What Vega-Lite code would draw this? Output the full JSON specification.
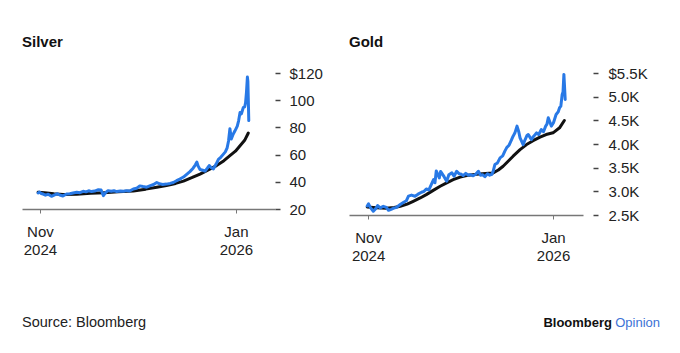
{
  "$schema": "https://vega.github.io/schema/vega-lite/v6.json",
  "background": "white",
  "padding": {"left": 22, "top": 35, "right": 20, "bottom": 0},
  "config": {
    "view": {"stroke": null},
    "font": "Liberation Sans",
    "axis": {"grid": false, "title": null, "labelFont": "Liberation Sans", "labelColor": "#222222", "labelFontSize": 15}
  },
  "datasets": {
    "silver": [
      {"date": "2024-10-28", "series": "avg", "value": 32.3},
      {"date": "2024-11-11", "series": "avg", "value": 32.0},
      {"date": "2024-12-01", "series": "avg", "value": 31.2},
      {"date": "2024-12-21", "series": "avg", "value": 30.6},
      {"date": "2025-01-20", "series": "avg", "value": 30.9},
      {"date": "2025-02-19", "series": "avg", "value": 31.5},
      {"date": "2025-03-21", "series": "avg", "value": 32.0},
      {"date": "2025-04-20", "series": "avg", "value": 32.6},
      {"date": "2025-05-23", "series": "avg", "value": 33.3},
      {"date": "2025-06-19", "series": "avg", "value": 34.6},
      {"date": "2025-07-13", "series": "avg", "value": 36.0},
      {"date": "2025-08-03", "series": "avg", "value": 37.3},
      {"date": "2025-08-23", "series": "avg", "value": 38.8},
      {"date": "2025-09-09", "series": "avg", "value": 40.5},
      {"date": "2025-09-27", "series": "avg", "value": 43.0},
      {"date": "2025-10-15", "series": "avg", "value": 45.7},
      {"date": "2025-11-02", "series": "avg", "value": 48.8},
      {"date": "2025-11-20", "series": "avg", "value": 51.9},
      {"date": "2025-12-06", "series": "avg", "value": 55.5},
      {"date": "2025-12-19", "series": "avg", "value": 59.2},
      {"date": "2025-12-31", "series": "avg", "value": 62.5},
      {"date": "2026-01-10", "series": "avg", "value": 66.5},
      {"date": "2026-01-20", "series": "avg", "value": 70.5},
      {"date": "2026-01-28", "series": "avg", "value": 75.9},
      {"date": "2024-10-28", "series": "price", "value": 31.8},
      {"date": "2024-10-31", "series": "price", "value": 32.4},
      {"date": "2024-11-04", "series": "price", "value": 31.4},
      {"date": "2024-11-08", "series": "price", "value": 31.0},
      {"date": "2024-11-13", "series": "price", "value": 30.2},
      {"date": "2024-11-19", "series": "price", "value": 30.8},
      {"date": "2024-11-26", "series": "price", "value": 29.3},
      {"date": "2024-12-03", "series": "price", "value": 30.4},
      {"date": "2024-12-09", "series": "price", "value": 31.2},
      {"date": "2024-12-14", "series": "price", "value": 30.3},
      {"date": "2024-12-21", "series": "price", "value": 29.6},
      {"date": "2024-12-29", "series": "price", "value": 31.0},
      {"date": "2025-01-05", "series": "price", "value": 31.2},
      {"date": "2025-01-12", "series": "price", "value": 31.8},
      {"date": "2025-01-20", "series": "price", "value": 32.3},
      {"date": "2025-01-27", "series": "price", "value": 32.0},
      {"date": "2025-02-03", "series": "price", "value": 33.0},
      {"date": "2025-02-09", "series": "price", "value": 32.6},
      {"date": "2025-02-15", "series": "price", "value": 33.4},
      {"date": "2025-02-21", "series": "price", "value": 32.8},
      {"date": "2025-02-28", "series": "price", "value": 33.2},
      {"date": "2025-03-08", "series": "price", "value": 34.2},
      {"date": "2025-03-14", "series": "price", "value": 34.0},
      {"date": "2025-03-19", "series": "price", "value": 29.8},
      {"date": "2025-03-23", "series": "price", "value": 31.8},
      {"date": "2025-03-29", "series": "price", "value": 33.5},
      {"date": "2025-04-05", "series": "price", "value": 33.0},
      {"date": "2025-04-11", "series": "price", "value": 33.4},
      {"date": "2025-04-17", "series": "price", "value": 32.8},
      {"date": "2025-04-25", "series": "price", "value": 33.2},
      {"date": "2025-05-02", "series": "price", "value": 33.0},
      {"date": "2025-05-08", "series": "price", "value": 33.5},
      {"date": "2025-05-15", "series": "price", "value": 33.2},
      {"date": "2025-05-23", "series": "price", "value": 34.7},
      {"date": "2025-05-30", "series": "price", "value": 35.2},
      {"date": "2025-06-06", "series": "price", "value": 37.0},
      {"date": "2025-06-13", "series": "price", "value": 36.5},
      {"date": "2025-06-21", "series": "price", "value": 36.0},
      {"date": "2025-06-29", "series": "price", "value": 37.2},
      {"date": "2025-07-06", "series": "price", "value": 38.0},
      {"date": "2025-07-13", "series": "price", "value": 39.5},
      {"date": "2025-07-19", "series": "price", "value": 38.5},
      {"date": "2025-07-26", "series": "price", "value": 38.0},
      {"date": "2025-08-03", "series": "price", "value": 38.3},
      {"date": "2025-08-11", "series": "price", "value": 38.8},
      {"date": "2025-08-18", "series": "price", "value": 39.5},
      {"date": "2025-08-25", "series": "price", "value": 40.8},
      {"date": "2025-09-01", "series": "price", "value": 42.0},
      {"date": "2025-09-09", "series": "price", "value": 43.5},
      {"date": "2025-09-16", "series": "price", "value": 45.5},
      {"date": "2025-09-23", "series": "price", "value": 47.5},
      {"date": "2025-09-30", "series": "price", "value": 50.0},
      {"date": "2025-10-05", "series": "price", "value": 52.5},
      {"date": "2025-10-08", "series": "price", "value": 54.5},
      {"date": "2025-10-11", "series": "price", "value": 51.5},
      {"date": "2025-10-15", "series": "price", "value": 49.0},
      {"date": "2025-10-21", "series": "price", "value": 48.5},
      {"date": "2025-10-26", "series": "price", "value": 47.8},
      {"date": "2025-10-31", "series": "price", "value": 50.0},
      {"date": "2025-11-04", "series": "price", "value": 52.0},
      {"date": "2025-11-08", "series": "price", "value": 50.5},
      {"date": "2025-11-13", "series": "price", "value": 49.5},
      {"date": "2025-11-19", "series": "price", "value": 53.0},
      {"date": "2025-11-24", "series": "price", "value": 56.5},
      {"date": "2025-11-29", "series": "price", "value": 58.0},
      {"date": "2025-12-04", "series": "price", "value": 60.0},
      {"date": "2025-12-09", "series": "price", "value": 62.0},
      {"date": "2025-12-13", "series": "price", "value": 65.0},
      {"date": "2025-12-16", "series": "price", "value": 70.0},
      {"date": "2025-12-19", "series": "price", "value": 79.0},
      {"date": "2025-12-22", "series": "price", "value": 71.5},
      {"date": "2025-12-26", "series": "price", "value": 75.0},
      {"date": "2025-12-30", "series": "price", "value": 77.5},
      {"date": "2026-01-04", "series": "price", "value": 81.0},
      {"date": "2026-01-07", "series": "price", "value": 85.0},
      {"date": "2026-01-10", "series": "price", "value": 91.0},
      {"date": "2026-01-13", "series": "price", "value": 90.0},
      {"date": "2026-01-17", "series": "price", "value": 94.5},
      {"date": "2026-01-20", "series": "price", "value": 95.0},
      {"date": "2026-01-22", "series": "price", "value": 98.0},
      {"date": "2026-01-24", "series": "price", "value": 106.0},
      {"date": "2026-01-26", "series": "price", "value": 117.0},
      {"date": "2026-01-27", "series": "price", "value": 114.0},
      {"date": "2026-01-28", "series": "price", "value": 100.0},
      {"date": "2026-01-29", "series": "price", "value": 85.0}
    ],
    "gold": [
      {"date": "2024-10-30", "series": "avg", "value": 2670},
      {"date": "2024-11-21", "series": "avg", "value": 2655},
      {"date": "2024-12-12", "series": "avg", "value": 2645},
      {"date": "2024-12-31", "series": "avg", "value": 2660},
      {"date": "2025-01-14", "series": "avg", "value": 2684},
      {"date": "2025-01-30", "series": "avg", "value": 2730},
      {"date": "2025-02-13", "series": "avg", "value": 2790},
      {"date": "2025-03-01", "series": "avg", "value": 2860},
      {"date": "2025-03-15", "series": "avg", "value": 2930},
      {"date": "2025-03-31", "series": "avg", "value": 3020},
      {"date": "2025-04-16", "series": "avg", "value": 3107},
      {"date": "2025-05-01", "series": "avg", "value": 3180},
      {"date": "2025-05-16", "series": "avg", "value": 3248},
      {"date": "2025-06-01", "series": "avg", "value": 3300},
      {"date": "2025-06-16", "series": "avg", "value": 3335},
      {"date": "2025-07-09", "series": "avg", "value": 3360},
      {"date": "2025-07-29", "series": "avg", "value": 3375},
      {"date": "2025-08-16", "series": "avg", "value": 3389},
      {"date": "2025-08-28", "series": "avg", "value": 3450},
      {"date": "2025-09-08", "series": "avg", "value": 3530},
      {"date": "2025-09-19", "series": "avg", "value": 3630},
      {"date": "2025-10-01", "series": "avg", "value": 3742},
      {"date": "2025-10-17", "series": "avg", "value": 3880},
      {"date": "2025-11-01", "series": "avg", "value": 3988},
      {"date": "2025-11-16", "series": "avg", "value": 4070},
      {"date": "2025-12-02", "series": "avg", "value": 4144},
      {"date": "2025-12-16", "series": "avg", "value": 4200},
      {"date": "2026-01-01", "series": "avg", "value": 4236},
      {"date": "2026-01-16", "series": "avg", "value": 4342},
      {"date": "2026-01-27", "series": "avg", "value": 4497},
      {"date": "2024-10-30", "series": "price", "value": 2690},
      {"date": "2024-11-02", "series": "price", "value": 2735},
      {"date": "2024-11-06", "series": "price", "value": 2660},
      {"date": "2024-11-13", "series": "price", "value": 2580},
      {"date": "2024-11-19", "series": "price", "value": 2640},
      {"date": "2024-11-23", "series": "price", "value": 2700},
      {"date": "2024-11-29", "series": "price", "value": 2650},
      {"date": "2024-12-06", "series": "price", "value": 2684},
      {"date": "2024-12-13", "series": "price", "value": 2660},
      {"date": "2024-12-18", "series": "price", "value": 2600},
      {"date": "2024-12-24", "series": "price", "value": 2620},
      {"date": "2024-12-29", "series": "price", "value": 2640},
      {"date": "2025-01-05", "series": "price", "value": 2660},
      {"date": "2025-01-14", "series": "price", "value": 2720},
      {"date": "2025-01-22", "series": "price", "value": 2770},
      {"date": "2025-01-28", "series": "price", "value": 2800},
      {"date": "2025-02-02", "series": "price", "value": 2900},
      {"date": "2025-02-09", "series": "price", "value": 2920},
      {"date": "2025-02-17", "series": "price", "value": 2896},
      {"date": "2025-02-24", "series": "price", "value": 2940},
      {"date": "2025-03-04", "series": "price", "value": 2980},
      {"date": "2025-03-10", "series": "price", "value": 3000},
      {"date": "2025-03-15", "series": "price", "value": 3050},
      {"date": "2025-03-21", "series": "price", "value": 3030},
      {"date": "2025-03-27", "series": "price", "value": 3150},
      {"date": "2025-04-01", "series": "price", "value": 3250},
      {"date": "2025-04-04", "series": "price", "value": 3180},
      {"date": "2025-04-07", "series": "price", "value": 3430},
      {"date": "2025-04-11", "series": "price", "value": 3350},
      {"date": "2025-04-14", "series": "price", "value": 3283},
      {"date": "2025-04-17", "series": "price", "value": 3420},
      {"date": "2025-04-20", "series": "price", "value": 3380},
      {"date": "2025-04-25", "series": "price", "value": 3310},
      {"date": "2025-05-01", "series": "price", "value": 3213},
      {"date": "2025-05-06", "series": "price", "value": 3350},
      {"date": "2025-05-13", "series": "price", "value": 3390},
      {"date": "2025-05-18", "series": "price", "value": 3320},
      {"date": "2025-05-24", "series": "price", "value": 3425},
      {"date": "2025-05-30", "series": "price", "value": 3370},
      {"date": "2025-06-04", "series": "price", "value": 3360},
      {"date": "2025-06-08", "series": "price", "value": 3330},
      {"date": "2025-06-14", "series": "price", "value": 3380},
      {"date": "2025-06-20", "series": "price", "value": 3340},
      {"date": "2025-06-24", "series": "price", "value": 3353},
      {"date": "2025-07-01", "series": "price", "value": 3330},
      {"date": "2025-07-07", "series": "price", "value": 3360},
      {"date": "2025-07-13", "series": "price", "value": 3425},
      {"date": "2025-07-18", "series": "price", "value": 3340},
      {"date": "2025-07-23", "series": "price", "value": 3350},
      {"date": "2025-07-28", "series": "price", "value": 3310},
      {"date": "2025-08-03", "series": "price", "value": 3370},
      {"date": "2025-08-08", "series": "price", "value": 3340},
      {"date": "2025-08-13", "series": "price", "value": 3360},
      {"date": "2025-08-16", "series": "price", "value": 3420},
      {"date": "2025-08-20", "series": "price", "value": 3565},
      {"date": "2025-08-26", "series": "price", "value": 3600},
      {"date": "2025-09-01", "series": "price", "value": 3707},
      {"date": "2025-09-07", "series": "price", "value": 3750},
      {"date": "2025-09-12", "series": "price", "value": 3850},
      {"date": "2025-09-16", "series": "price", "value": 3919},
      {"date": "2025-09-22", "series": "price", "value": 3980},
      {"date": "2025-09-27", "series": "price", "value": 4080},
      {"date": "2025-10-01", "series": "price", "value": 4166},
      {"date": "2025-10-05", "series": "price", "value": 4230},
      {"date": "2025-10-10", "series": "price", "value": 4378},
      {"date": "2025-10-14", "series": "price", "value": 4260},
      {"date": "2025-10-17", "series": "price", "value": 4130},
      {"date": "2025-10-21", "series": "price", "value": 4050},
      {"date": "2025-10-24", "series": "price", "value": 3988},
      {"date": "2025-10-29", "series": "price", "value": 4100},
      {"date": "2025-11-02", "series": "price", "value": 4180},
      {"date": "2025-11-05", "series": "price", "value": 4200},
      {"date": "2025-11-09", "series": "price", "value": 4140},
      {"date": "2025-11-12", "series": "price", "value": 4094},
      {"date": "2025-11-17", "series": "price", "value": 4160},
      {"date": "2025-11-21", "series": "price", "value": 4200},
      {"date": "2025-11-24", "series": "price", "value": 4236},
      {"date": "2025-11-29", "series": "price", "value": 4200},
      {"date": "2025-12-05", "series": "price", "value": 4306},
      {"date": "2025-12-10", "series": "price", "value": 4260},
      {"date": "2025-12-15", "series": "price", "value": 4378},
      {"date": "2025-12-18", "series": "price", "value": 4420},
      {"date": "2025-12-21", "series": "price", "value": 4554},
      {"date": "2025-12-24", "series": "price", "value": 4480},
      {"date": "2025-12-28", "series": "price", "value": 4378},
      {"date": "2026-01-02", "series": "price", "value": 4450},
      {"date": "2026-01-08", "series": "price", "value": 4624},
      {"date": "2026-01-13", "series": "price", "value": 4680},
      {"date": "2026-01-16", "series": "price", "value": 4766},
      {"date": "2026-01-19", "series": "price", "value": 4800},
      {"date": "2026-01-22", "series": "price", "value": 5047},
      {"date": "2026-01-24", "series": "price", "value": 5100},
      {"date": "2026-01-26", "series": "price", "value": 5470},
      {"date": "2026-01-27", "series": "price", "value": 5300},
      {"date": "2026-01-29", "series": "price", "value": 4941}
    ]
  },
  "spacing": 52,
  "vconcat": [
    {
      "hconcat": [
        {
          "width": 253,
          "height": 136,
          "title": {"text": "Silver", "anchor": "start", "fontSize": 15, "fontWeight": "bold", "color": "#111111", "offset": 4, "baseline": "alphabetic", "font": "Liberation Sans"},
          "data": {"name": "silver"},
          "encoding": {
            "x": {
              "field": "date", "type": "temporal",
              "scale": {"type": "utc", "domain": [{"year": 2024, "month": 9, "date": 23, "utc": true}, {"year": 2026, "month": 3, "date": 27, "utc": true}]},
              "axis": {
                "values": [{"year": 2024, "month": 11, "date": 1, "utc": true}, {"year": 2026, "month": 1, "date": 1, "utc": true}],
                "labelExpr": "[utcFormat(datum.value, '%b'), utcFormat(datum.value, '%Y')]",
                "domainColor": "#777777", "domainWidth": 1.5,
                "tickColor": "#777777", "tickSize": 4, "tickWidth": 1,
                "labelPadding": 11, "labelLineHeight": 18, "labelFlush": false, "labelOverlap": false
              }
            },
            "y": {
              "field": "value", "type": "quantitative",
              "scale": {"domain": [20, 120], "nice": false, "zero": false},
              "axis": {
                "orient": "right", "values": [20, 40, 60, 80, 100, 120],
                "labelExpr": "datum.value == 120 ? '$120' : datum.label",
                "domain": false, "tickSize": 5, "tickColor": "#444444", "tickWidth": 1.5,
                "labelPadding": 9, "offset": 0
              }
            }
          },
          "layer": [
            {"transform": [{"filter": "datum.series == 'avg'"}], "mark": {"type": "line", "color": "#111111", "strokeWidth": 3, "strokeCap": "round", "strokeJoin": "round"}},
            {"transform": [{"filter": "datum.series == 'price'"}], "mark": {"type": "line", "color": "#2879e6", "strokeWidth": 3, "strokeCap": "round", "strokeJoin": "round"}}
          ]
        },
        {
          "width": 234,
          "height": 142,
          "title": {"text": "Gold", "anchor": "start", "fontSize": 15, "fontWeight": "bold", "color": "#111111", "offset": 4, "baseline": "alphabetic", "font": "Liberation Sans"},
          "data": {"name": "gold"},
          "encoding": {
            "x": {
              "field": "date", "type": "temporal",
              "scale": {"type": "utc", "domain": [{"year": 2024, "month": 9, "date": 18, "utc": true}, {"year": 2026, "month": 3, "date": 11, "utc": true}]},
              "axis": {
                "values": [{"year": 2024, "month": 11, "date": 1, "utc": true}, {"year": 2026, "month": 1, "date": 1, "utc": true}],
                "labelExpr": "[utcFormat(datum.value, '%b'), utcFormat(datum.value, '%Y')]",
                "domainColor": "#777777", "domainWidth": 1.5,
                "tickColor": "#777777", "tickSize": 4, "tickWidth": 1,
                "labelPadding": 11, "labelLineHeight": 18, "labelFlush": false, "labelOverlap": false
              }
            },
            "y": {
              "field": "value", "type": "quantitative",
              "scale": {"domain": [2500, 5500], "nice": false, "zero": false},
              "axis": {
                "orient": "right", "values": [2500, 3000, 3500, 4000, 4500, 5000, 5500],
                "labelExpr": "datum.value == 5500 ? '$5.5K' : format(datum.value / 1000, '.1f') + 'K'",
                "domain": false, "tickSize": 5, "tickColor": "#444444", "tickWidth": 1.5,
                "labelPadding": 10, "offset": 10
              }
            }
          },
          "layer": [
            {"transform": [{"filter": "datum.series == 'avg'"}], "mark": {"type": "line", "color": "#111111", "strokeWidth": 3, "strokeCap": "round", "strokeJoin": "round"}},
            {"transform": [{"filter": "datum.series == 'price'"}], "mark": {"type": "line", "color": "#2879e6", "strokeWidth": 3, "strokeCap": "round", "strokeJoin": "round"}}
          ]
        }
      ],
      "spacing": 74,
      "bounds": "flush"
    },
    {
      "width": 638,
      "height": 14,
      "layer": [
        {"data": {"values": [{"label": "Source: Bloomberg"}]}, "mark": {"type": "text", "x": 0, "align": "left", "baseline": "middle", "fontSize": 14.5, "color": "#222222", "font": "Liberation Sans"}, "encoding": {"text": {"field": "label"}}},
        {"data": {"values": [{"label": "Bloomberg"}]}, "mark": {"type": "text", "x": "width", "dx": -48, "align": "right", "baseline": "middle", "fontSize": 13, "fontWeight": "bold", "color": "#111111", "font": "Liberation Sans"}, "encoding": {"text": {"field": "label"}}},
        {"data": {"values": [{"label": "Opinion"}]}, "mark": {"type": "text", "x": "width", "align": "right", "baseline": "middle", "fontSize": 13, "color": "#3d72d6", "font": "Liberation Sans"}, "encoding": {"text": {"field": "label"}}}
      ]
    }
  ]
}
